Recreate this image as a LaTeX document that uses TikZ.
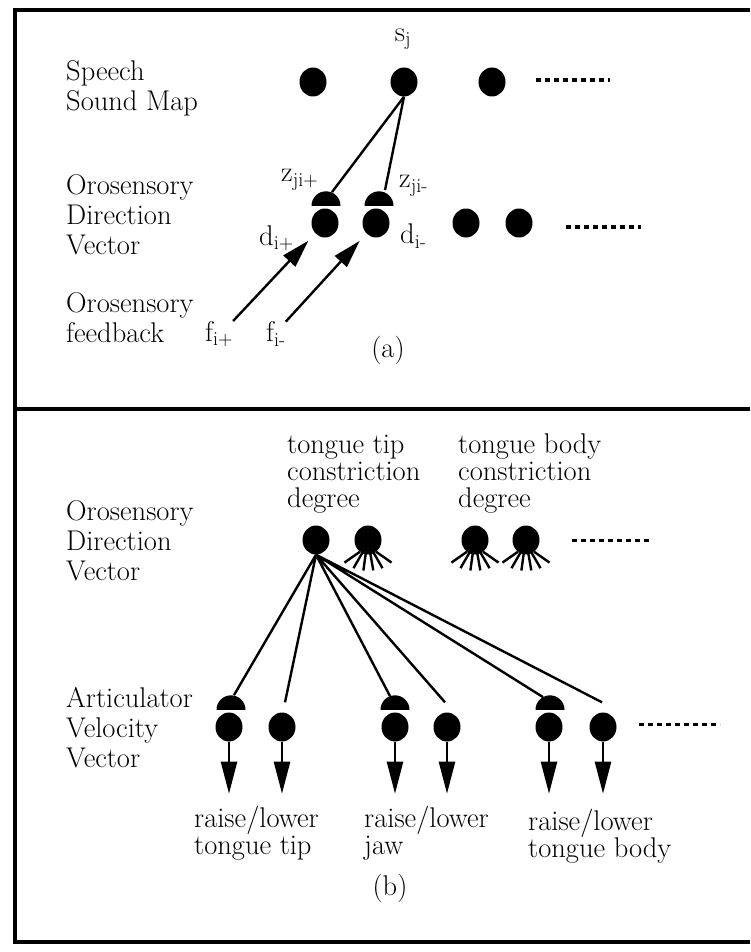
\documentclass[tikz,border=0pt]{standalone}
\usetikzlibrary{shapes.geometric,arrows.meta,positioning,calc}
\tikzstyle{neuron} = [ellipse, fill=black, inner sep=0pt, minimum width=27pt, minimum height=29pt]
\tikzstyle{synapse} = [semicircle, fill=black, inner sep=0pt, minimum width=29pt, minimum height=14pt, anchor=chord center]
\tikzstyle{lbl} = [align=left, inner sep=0pt, font=\fontsize{28.5}{30}\selectfont]
\tikzstyle{tight} = [font=\fontsize{28.5}{27}\selectfont]
\tikzstyle{wire} = [line width=2.4pt]
\tikzstyle{more} = [line width=4pt, dash pattern=on 5pt off 4pt]
\tikzstyle{feed} = [wire, -{Triangle[length=28pt,width=16pt]}]
\tikzstyle{drive} = [wire, -{Triangle[length=32pt,width=16pt]}]

\begin{document}
\begin{tikzpicture}[x=1pt,y=-1pt]
	\useasboundingbox (0,0) rectangle (750,952);
	% frame
	\draw[line width=3.5pt] (750,10) -- (15,10) -- (15,942) -- (750,942)
		(15,409) -- (750,409);

	% (a)
	\node[lbl,anchor=west] (ssm) at (66,88) {Speech\\Sound Map};
	\node[lbl,anchor=west] (odva) at (66,215) {Orosensory\\Direction\\Vector};
	\node[lbl,anchor=west] (ofb) at (66,318) {Orosensory\\feedback};
	\node[neuron] (s1) at (313,82) {};
	\node[neuron] (s2) at (404,82) {};
	\node[neuron] (s3) at (492,82) {};
	\node[lbl] (sj) at (403,39) {s\textsubscript{j}};
	\draw[more] (536,80) -- (610,80);
	\node[neuron] (d1) at (325,223) {};
	\node[neuron] (d2) at (376,223) {};
	\node[neuron] (d3) at (466,223) {};
	\node[neuron] (d4) at (519,223) {};
	\draw[more] (566,227) -- (641,227);
	\node[synapse] (z1) at (326,206) {};
	\node[synapse] (z2) at (379,206) {};
	\node[lbl,anchor=west] (zp) at (281,180) {z\textsubscript{ji+}};
	\node[lbl,anchor=west] (zm) at (399,186) {z\textsubscript{ji-}};
	\node[lbl,anchor=west] (dp) at (259,238) {d\textsubscript{i+}};
	\node[lbl,anchor=west] (dm) at (400,236) {d\textsubscript{i-}};
	\node[lbl,anchor=west] (fp) at (205,334) {f\textsubscript{i+}};
	\node[lbl,anchor=west] (fm) at (266,334) {f\textsubscript{i-}};
	\node[lbl] (capa) at (388,350) {(a)};
	\draw[wire] (s2.south) -- ($(z1.apex)+(6,1)$)
		(s2.south) -- ($(z2.apex)+(6,-1)$);
	\draw[feed,shorten >=10pt] (fp.north east) -- (d1);
	\draw[feed,shorten >=10pt] (fm.north east) -- (d2);

	% (b)
	\node[lbl,anchor=west] (odvb) at (66,541) {Orosensory\\Direction\\Vector};
	\node[lbl,anchor=west] (avv) at (66,728) {Articulator\\Velocity\\Vector};
	\node[lbl,tight,anchor=west] (ttc) at (287,474) {tongue tip\\constriction\\degree};
	\node[lbl,tight,anchor=west] (tbc) at (458,474) {tongue body\\constriction\\degree};
	\node[neuron] (o1) at (316,540) {};
	\node[neuron] (o2) at (368,540) {};
	\node[neuron] (o3) at (475,540) {};
	\node[neuron] (o4) at (526,540) {};
	\draw[more,line width=3pt] (572,540) -- (651,540);
	\foreach \n in {o2,o3,o4}
		\foreach \dx/\a in {-8/215,-5/240,-2/262,2/280,5/300,8/325}
			\draw[line width=2.4pt] ($(\n.south)+(\dx,-3)$) -- ++(\a:19pt);

	\node[neuron] (v1) at (229,727) {};
	\node[neuron] (v2) at (282,727) {};
	\node[neuron] (v3) at (395,727) {};
	\node[neuron] (v4) at (447,727) {};
	\node[neuron] (v5) at (549,727) {};
	\node[neuron] (v6) at (603,727) {};
	\draw[more,line width=3pt] (639,724) -- (720,724);
	\node[synapse] (y1) at (231,710) {};
	\node[synapse] (y3) at (395,710) {};
	\node[synapse] (y5) at (550,710) {};
	\draw[wire] (o1.south) -- ($(y1.apex)+(3,0)$)
		(o1.south) -- ($(y3.apex)+(-5,1)$)
		(o1.south) -- ($(y5.apex)+(-7,2)$)
		(o1.south) -- ($(v2.north)+(3,-10)$)
		(o1.south) -- ($(v4.north)+(-2,-10)$)
		(o1.south) -- ($(v6.north)+(-1,-10)$);
	\foreach \n in {v1,v2,v3,v4,v5,v6}
		\draw[drive] (\n.south) -- ++(0,52);

	\node[lbl,tight,anchor=west] (rl1) at (194,833) {raise/lower\\tongue tip};
	\node[lbl,tight,anchor=west] (rl2) at (364,833) {raise/lower\\jaw};
	\node[lbl,tight,anchor=west] (rl3) at (528,836) {raise/lower\\tongue body};
	\node[lbl] (capb) at (390,888) {(b)};
\end{tikzpicture}
\end{document}
